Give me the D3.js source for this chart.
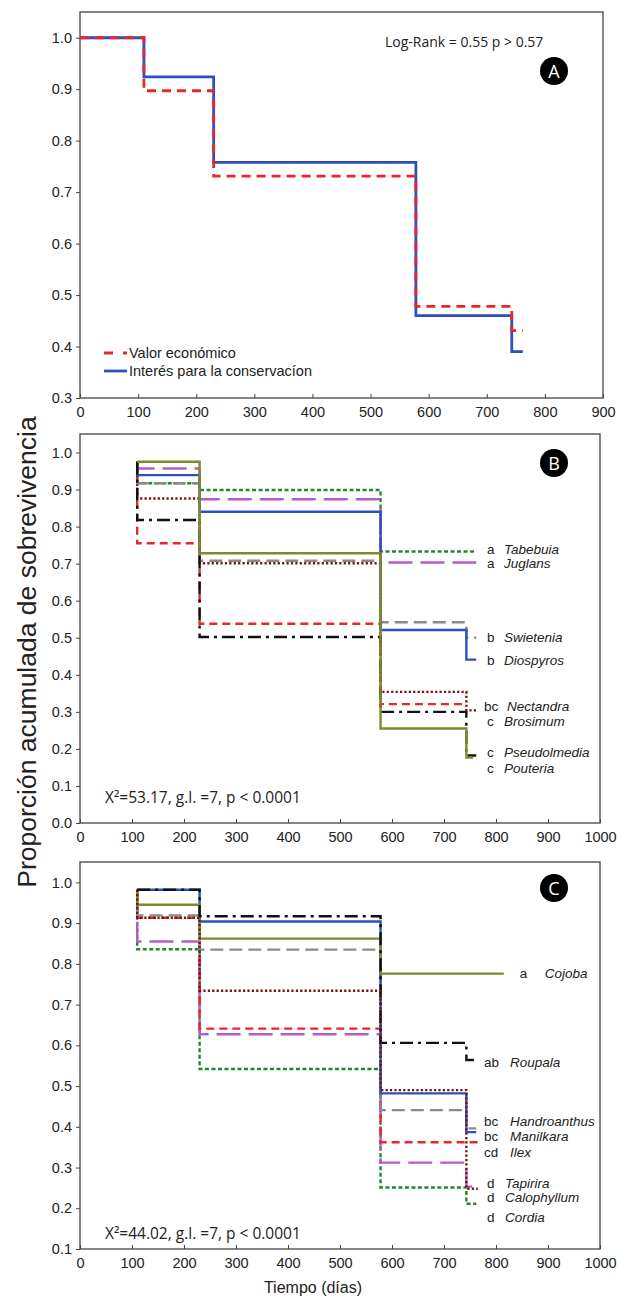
<!DOCTYPE html>
<html>
<head>
<meta charset="utf-8">
<script src="https://cdn.jsdelivr.net/npm/d3@7"></script>
<style>
    body { margin: 0; background: #fff; }
    svg text { font-family: "Liberation Sans", Arial, sans-serif; fill: #222; }
</style>
</head>
<body>
<div id="chart"></div>
<script>
const width = 617;
const height = 1298;

// Panel A: two groups, survival from day 0
const timesA = [0, 110, 230, 578, 743];
const econA = [1.0, 0.897, 0.731, 0.478, 0.431];
const consA = [1.0, 0.924, 0.758, 0.460, 0.390];
const endA = 762;
const legendA = ["Valor económico", "Interés para la conservacíon"];
const statA = "Log-Rank = 0.55 p > 0.57";

// Panels B and C share the census days
const timesBC = [110, 230, 578, 743];

// Panel B: economic value species
const speciesB = ["Tabebuia", "Juglans", "Swietenia", "Diospyros", "Nectandra", "Brosimum", "Pseudolmedia", "Pouteria"];
const groupsB = ["a", "a", "b", "b", "bc", "c", "c", "c"];
const survB = [
    [0.917, 0.899, 0.733, 0.733],
    [0.957, 0.874, 0.703, 0.703],
    [0.917, 0.708, 0.542, 0.500],
    [0.939, 0.840, 0.521, 0.441],
    [0.876, 0.701, 0.354, 0.304],
    [0.755, 0.538, 0.321, 0.321],
    [0.818, 0.502, 0.300, 0.182],
    [0.975, 0.728, 0.255, 0.177]
];
const endB = [762, 762, 762, 762, 762, 743, 762, 756];
const labelAtB = [0.737, 0.700, 0.501, 0.438, 0.315, 0.273, 0.189, 0.146];
const statB = "X²=53.17, g.l. =7, p < 0.0001";

// Panel C: conservation interest species
const speciesC = ["Cojoba", "Roupala", "Handroanthus", "Manilkara", "Ilex", "Tapirira", "Calophyllum", "Cordia"];
const groupsC = ["a", "ab", "bc", "bc", "cd", "d", "d", "d"];
const survC = [
    [0.945, 0.862, 0.776, 0.776],
    [0.982, 0.917, 0.606, 0.564],
    [0.919, 0.835, 0.441, 0.396],
    [0.982, 0.904, 0.482, 0.387],
    [0.913, 0.641, 0.362, 0.362],
    [0.855, 0.627, 0.312, 0.253],
    [0.913, 0.734, 0.490, 0.248],
    [0.836, 0.542, 0.251, 0.211]
];
const endC = [815, 764, 762, 762, 765, 765, 765, 762];
const labelAtC = [0.776, 0.558, 0.413, 0.376, 0.337, 0.260, 0.226, 0.177];
const statC = "X²=44.02, g.l. =7, p < 0.0001";

// Tick values
const xTicksA = [0, 100, 200, 300, 400, 500, 600, 700, 800, 900];
const xTicksBC = [0, 100, 200, 300, 400, 500, 600, 700, 800, 900, 1000];
const yTicksA = [0.3, 0.4, 0.5, 0.6, 0.7, 0.8, 0.9, 1.0];
const yTicksB = [0.0, 0.1, 0.2, 0.3, 0.4, 0.5, 0.6, 0.7, 0.8, 0.9, 1.0];
const yTicksC = [0.1, 0.2, 0.3, 0.4, 0.5, 0.6, 0.7, 0.8, 0.9, 1.0];

// line styles
const RED = { color: "#e8262b", dash: "8,5" };
const BLUE = { color: "#2b50c0", dash: null };
const GREEN = { color: "#1b8a2e", dash: "4,2.5" };
const PURPLE = { color: "#b35ec6", dash: "24,8" };
const GRAY = { color: "#8a8a8a", dash: "13,6" };
const DKRED = { color: "#7a1212", dash: "2.2,2.2" };
const BLACK = { color: "#111", dash: "13,5,3,5" };
const OLIVE = { color: "#7e8a2c", dash: null };

const stylesB = [GREEN, PURPLE, GRAY, BLUE, DKRED, RED, BLACK, OLIVE];
const stylesC = [OLIVE, BLACK, GRAY, BLUE, RED, PURPLE, DKRED, GREEN];
// drawing order (last on top)
const orderB = [0, 1, 5, 4, 2, 3, 6, 7];
const orderC = [7, 5, 4, 2, 3, 0, 1, 6];

const svg = d3.select("#chart")
    .append("svg")
    .attr("width", width)
    .attr("height", height);

const stepLine = (x, y) => d3.line()
    .x(d => x(d.t))
    .y(d => y(d.v))
    .curve(d3.curveStepAfter);

function stepPoints(times, vals, start, end) {
    const pts = [{ t: times[0], v: start }];
    times.forEach((t, i) => pts.push({ t: t, v: vals[i] }));
    pts.push({ t: end, v: vals[vals.length - 1] });
    return pts;
}

function drawPanel(p) {
    const x = d3.scaleLinear().domain(p.xDomain).range([p.left, p.right]);
    const y = d3.scaleLinear().domain(p.yDomain).range([p.bottom, p.top]);
    const g = svg.append("g");

    // axes
    g.append("g")
        .attr("transform", `translate(0,${p.bottom})`)
        .call(d3.axisBottom(x).tickValues(p.xTicks).tickFormat(d3.format("d")).tickSize(-4).tickPadding(9).tickSizeOuter(0))
        .call(a => a.select(".domain").remove())
        .call(a => a.selectAll("text").style("font-size", "14.5px"))
        .call(a => a.selectAll("line").attr("stroke", "#444"));

    g.append("g")
        .attr("transform", `translate(${p.left},0)`)
        .call(d3.axisLeft(y).tickValues(p.yTicks).tickFormat(d3.format(".1f")).tickSize(4).tickPadding(4).tickSizeOuter(0))
        .call(a => a.select(".domain").remove())
        .call(a => a.selectAll("text").style("font-size", "14.5px"))
        .call(a => a.selectAll("line").attr("stroke", "#444"));

    g.append("rect")
        .attr("x", p.left)
        .attr("y", p.top)
        .attr("width", p.right - p.left)
        .attr("height", p.bottom - p.top)
        .attr("fill", "none")
        .attr("stroke", "#444")
        .attr("stroke-width", 1.3);

    // survival curves
    const line = stepLine(x, y);
    p.order.forEach(i => {
        const s = p.series[i];
        g.append("path")
            .attr("d", line(s.points))
            .attr("fill", "none")
            .attr("stroke", s.style.color)
            .attr("stroke-width", p.lineWidth)
            .attr("stroke-dasharray", s.style.dash);
    });

    // panel letter
    g.append("circle")
        .attr("cx", p.badgeX)
        .attr("cy", p.badgeY)
        .attr("r", 14)
        .attr("fill", "#000");
    g.append("text")
        .attr("x", p.badgeX)
        .attr("y", p.badgeY)
        .attr("text-anchor", "middle")
        .attr("dominant-baseline", "central")
        .style("font-family", "'Open Sans', sans-serif")
        .style("font-size", "18px")
        .style("fill", "#fff")
        .text(p.badge);

    return { x, y, g };
}

// ---- Panel A
const panelA = drawPanel({
    top: 12, bottom: 398, left: 80, right: 603,
    xDomain: [0, 900], yDomain: [0.3, 1.05],
    xTicks: xTicksA, yTicks: yTicksA,
    lineWidth: 2.8,
    series: [
        { points: stepPoints(timesA, consA, 1.0, endA), style: BLUE },
        { points: stepPoints(timesA, econA, 1.0, endA), style: { color: RED.color, dash: "9,6" } }
    ],
    order: [0, 1],
    badge: "A", badgeX: 554, badgeY: 71
});

panelA.g.append("text")
    .attr("x", 385)
    .attr("y", 47)
    .style("font-family", "'Open Sans', sans-serif")
    .style("font-size", "14px")
    .text(statA);

// legend
const legA = [{ style: { color: RED.color, dash: "9,10,4" }, y: 353 }, { style: BLUE, y: 371 }];
legA.forEach((l, i) => {
    panelA.g.append("line")
        .attr("x1", 104).attr("x2", 127)
        .attr("y1", l.y).attr("y2", l.y)
        .attr("stroke", l.style.color)
        .attr("stroke-width", 2.8)
        .attr("stroke-dasharray", l.style.dash);
    panelA.g.append("text")
        .attr("x", 129)
        .attr("y", l.y)
        .attr("dominant-baseline", "central")
        .style("font-size", "14.5px")
        .text(legendA[i]);
});

// ---- Panels B and C
function speciesPanel(cfg) {
    const top = d3.max(cfg.surv, d => d[0]);
    const series = cfg.surv.map((vals, i) => ({
        points: stepPoints(timesBC, vals, top, cfg.ends[i]),
        style: cfg.styles[i]
    }));
    const panel = drawPanel({
        top: cfg.top, bottom: cfg.bottom, left: 80, right: 600,
        xDomain: [0, 1000], yDomain: cfg.yDomain,
        xTicks: xTicksBC, yTicks: cfg.yTicks,
        lineWidth: 2.4,
        series: series,
        order: cfg.order,
        badge: cfg.badge, badgeX: 554, badgeY: cfg.badgeY
    });

    // group letters and species names
    cfg.species.forEach((name, i) => {
        const two = cfg.groups[i].length > 1;
        const far = cfg.ends[i] > 790;
        const lx = far ? panel.x(cfg.ends[i]) + 16 : (two ? 484 : 487);
        const nx = far ? lx + 25 : lx + (two ? cfg.gap2 : cfg.gap1);
        const yy = panel.y(cfg.labelAt[i]);
        panel.g.append("text")
            .attr("x", lx).attr("y", yy)
            .attr("dominant-baseline", "central")
            .style("font-size", "13.5px")
            .text(cfg.groups[i]);
        panel.g.append("text")
            .attr("x", nx).attr("y", yy)
            .attr("dominant-baseline", "central")
            .style("font-size", "13.5px")
            .style("font-style", "italic")
            .text(name);
    });

    panel.g.append("text")
        .attr("x", 105)
        .attr("y", cfg.statY)
        .attr("dominant-baseline", "central")
        .style("font-family", "'Open Sans', sans-serif")
        .style("font-size", "15.5px")
        .text(cfg.stat);
    return panel;
}

speciesPanel({
    top: 434, bottom: 823, yDomain: [0, 1.05], yTicks: yTicksB,
    surv: survB, ends: endB, styles: stylesB, order: orderB,
    species: speciesB, groups: groupsB, labelAt: labelAtB,
    gap1: 17, gap2: 23,
    stat: statB, statY: 797,
    badge: "B", badgeY: 463
});

speciesPanel({
    top: 862, bottom: 1249, yDomain: [0.1, 1.05], yTicks: yTicksC,
    surv: survC, ends: endC, styles: stylesC, order: orderC,
    species: speciesC, groups: groupsC, labelAt: labelAtC,
    gap1: 18, gap2: 26,
    stat: statC, statY: 1233,
    badge: "C", badgeY: 888
});

// Axis titles
svg.append("text")
    .attr("transform", "translate(27,652) rotate(-90)")
    .attr("text-anchor", "middle")
    .attr("dominant-baseline", "central")
    .style("font-size", "26.5px")
    .text("Proporción acumulada de sobrevivencia");

svg.append("text")
    .attr("x", 313)
    .attr("y", 1287)
    .attr("text-anchor", "middle")
    .attr("dominant-baseline", "central")
    .style("font-size", "16px")
    .text("Tiempo (días)");
</script>
</body>
</html>
